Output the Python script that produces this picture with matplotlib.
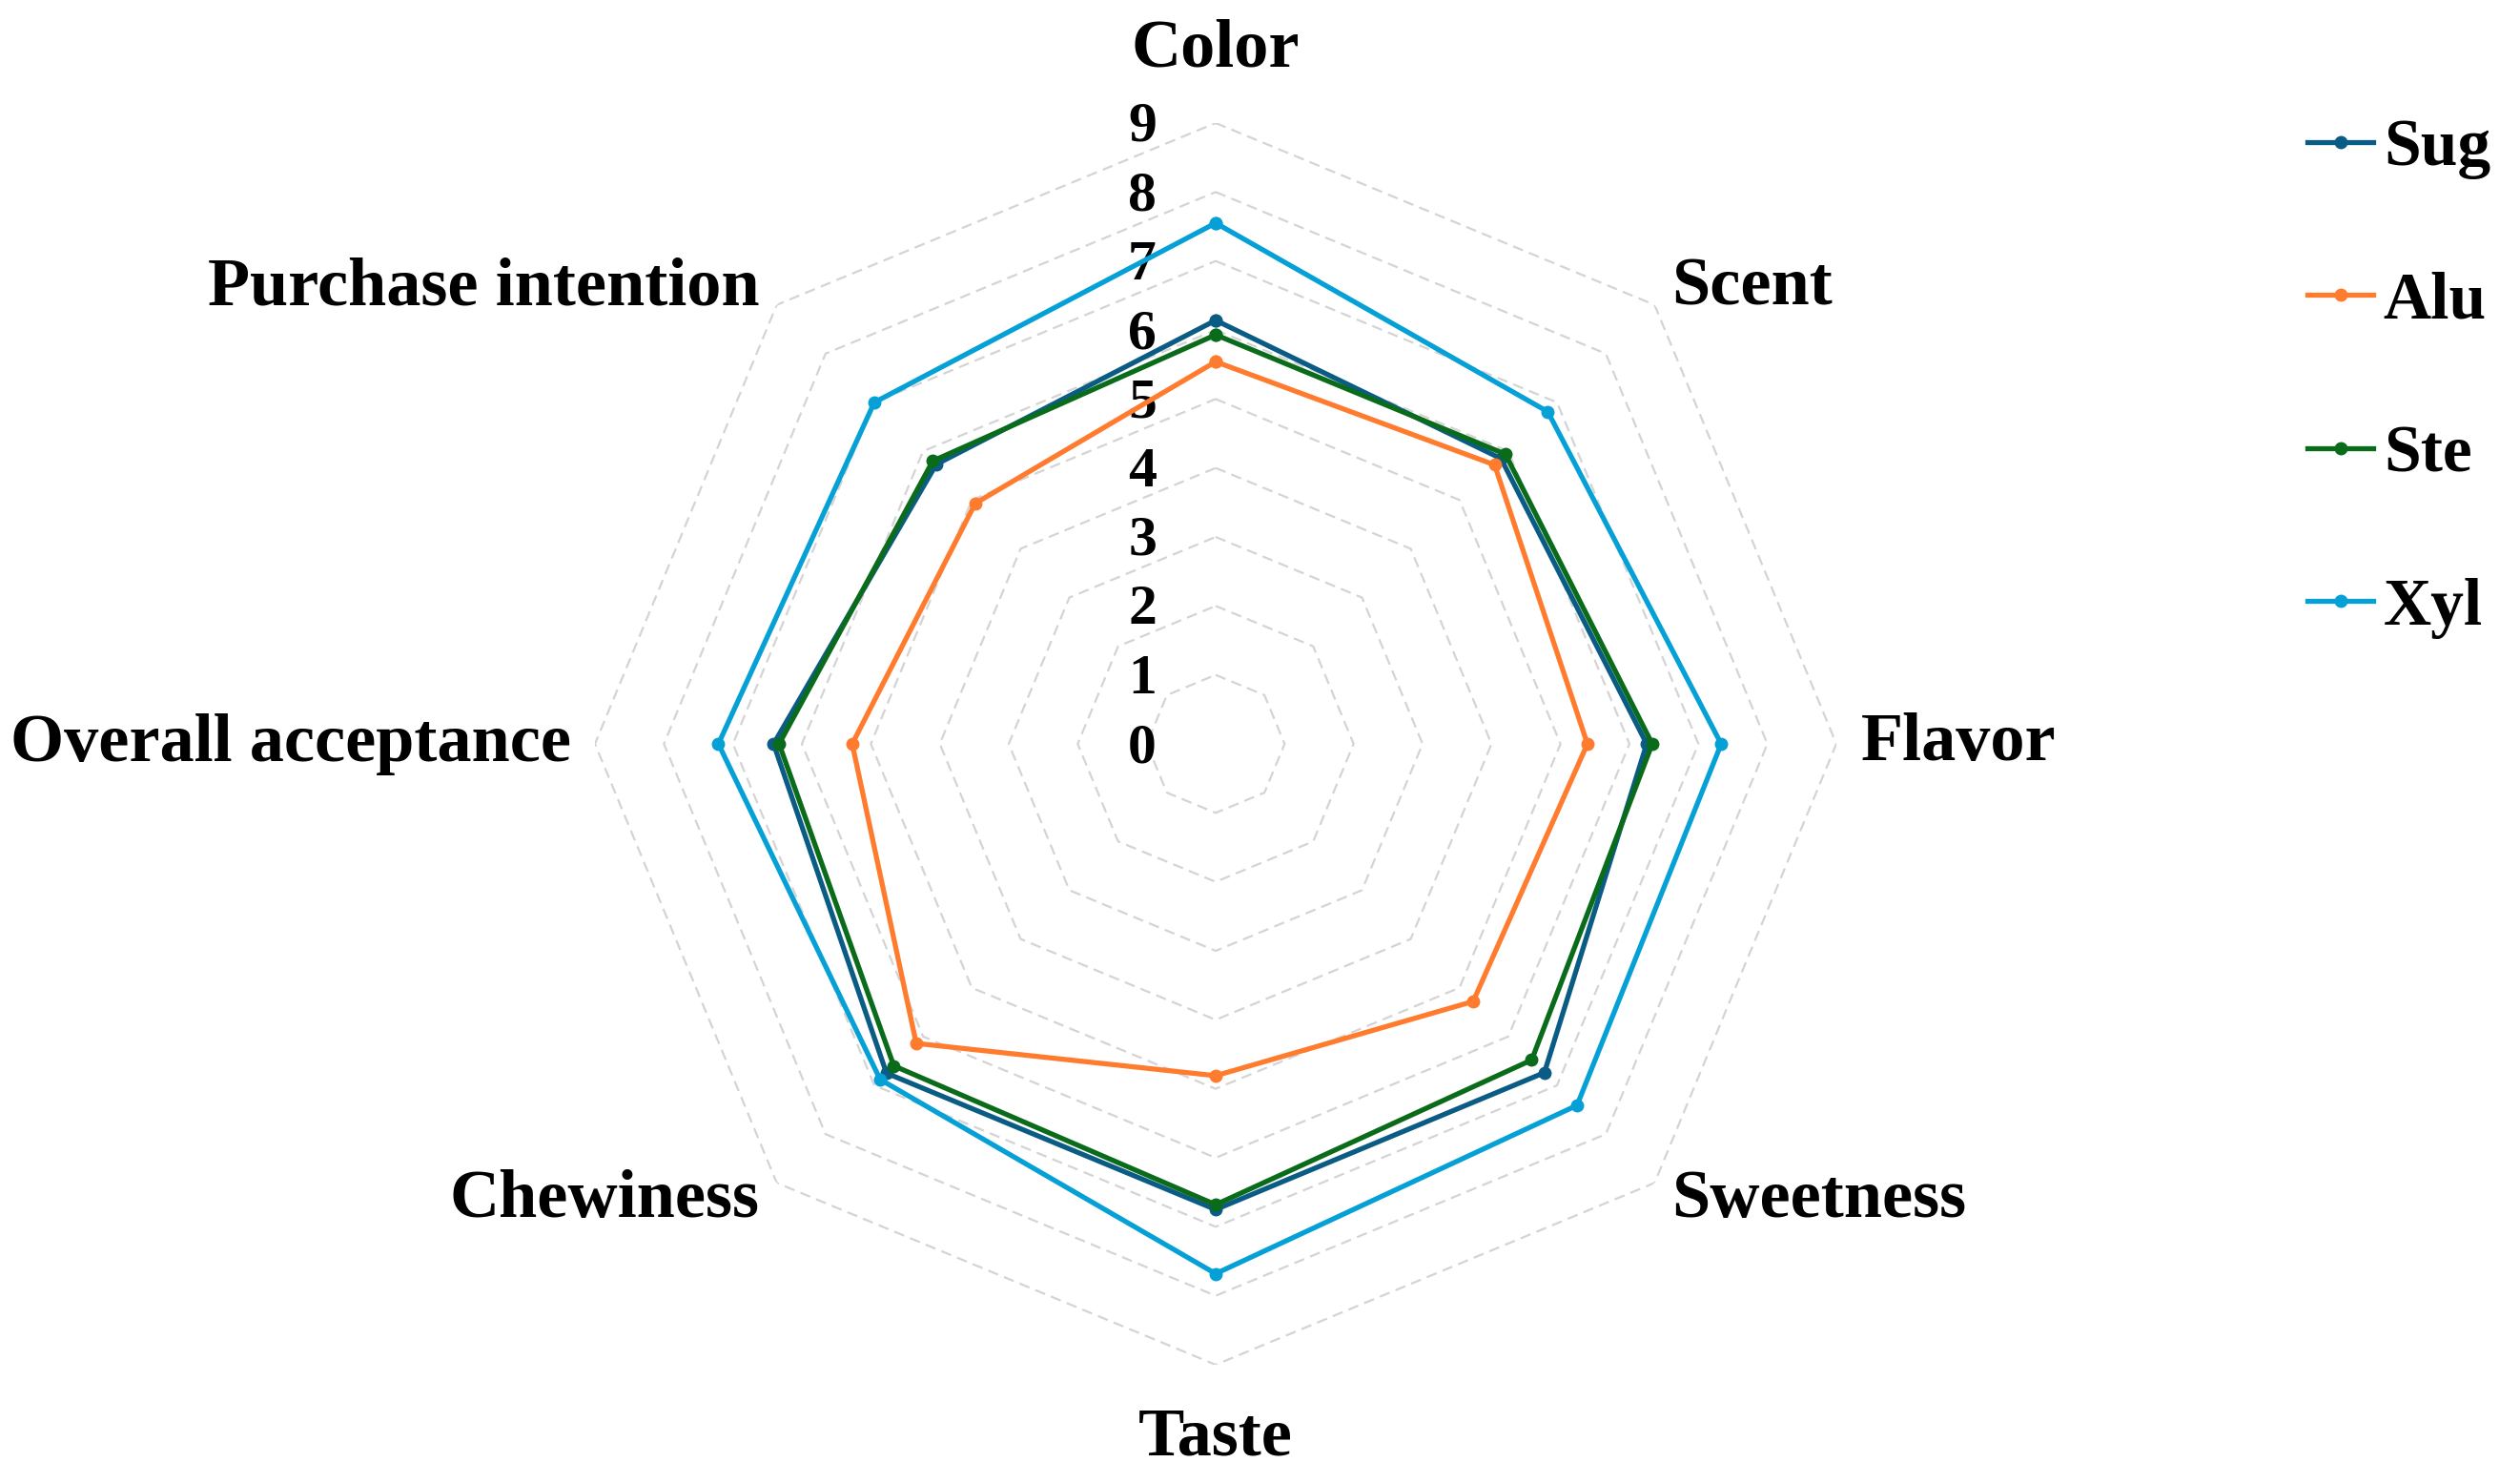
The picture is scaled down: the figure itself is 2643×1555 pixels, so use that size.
import numpy as np
import matplotlib
matplotlib.use("Agg")
import matplotlib.pyplot as plt
from matplotlib.transforms import offset_copy

plt.rcParams['font.family'] = ['Liberation Serif', 'DejaVu Serif']
plt.rcParams['font.weight'] = 'bold'

# categories, clockwise from the top
categories = ['Color', 'Scent', 'Flavor', 'Sweetness', 'Taste',
              'Chewiness', 'Overall acceptance', 'Purchase intention']

series_names = ['Sug', 'Alu', 'Ste', 'Xyl']
sug = [6.14, 5.85, 6.25, 6.74, 6.75, 6.75, 6.41, 5.73]
alu = [5.54, 5.72, 5.39, 5.28, 4.81, 6.14, 5.27, 4.93]
ste = [5.93, 5.94, 6.33, 6.48, 6.68, 6.60, 6.33, 5.80]
xyl = [7.55, 6.81, 7.33, 7.41, 7.68, 6.88, 7.21, 7.00]

r_ticks = [0, 1, 2, 3, 4, 5, 6, 7, 8, 9]

colors = ['#0B5C84', '#FF7B2E', '#0A6B1A', '#04A0D6']

W, H = 2643, 1555
fig = plt.figure(figsize=(W / 100, H / 100), dpi=100)

# polar axes centred at (1275, 780) px, radius 9 -> 651 px
cx, cy, rad = 1275, 780, 651
ax = fig.add_axes([(cx - rad) / W, 1 - (cy + rad) / H, 2 * rad / W, 2 * rad / H],
                  projection='polar')
ax.set_theta_offset(np.pi / 2)
ax.set_theta_direction(-1)
ax.set_ylim(0, 9)
ax.grid(False)
ax.spines['polar'].set_visible(False)
ax.set_xticks([])
ax.set_yticks([])

n = len(categories)
angles = np.linspace(0, 2 * np.pi, n, endpoint=False)
closed = np.append(angles, angles[0])

# octagonal dashed grid
for r in r_ticks[1:]:
    ax.plot(closed, [r] * (n + 1), color='#d4d4d4', lw=1.6,
            ls=(0, (5, 3)), zorder=1)

# radial tick labels left of the top spoke
tick_tr = offset_copy(ax.transData, fig=fig, x=-77, y=-5, units='dots')
for r in r_ticks:
    ax.text(0, r, str(r), transform=tick_tr, ha='center', va='center',
            fontsize=43, fontweight='bold', color='black')

# series
data = [sug, alu, ste, xyl]
for name, vals, c in zip(series_names, data, colors):
    ax.plot(closed, vals + vals[:1], color=c, lw=3.8, marker='o',
            markersize=9, label=name, zorder=3, clip_on=False)

# category labels
for ang, lab in zip(angles, categories):
    s, co = np.sin(ang), np.cos(ang)
    if abs(s) < 1e-6:
        ha = 'center'
        va = 'bottom' if co > 0 else 'top'
        r_lab = 9.62
    else:
        ha = 'left' if s > 0 else 'right'
        va = 'center'
        r_lab = 9.35
    ax.text(ang, r_lab, lab, ha=ha, va=va, fontsize=52, fontweight='bold',
            color='black', clip_on=False)

handles, labels = ax.get_legend_handles_labels()
fig.legend(handles, labels, loc='upper left',
           bbox_to_anchor=(2420 / W, 1 - 124 / H), frameon=False,
           fontsize=50, handlelength=1.0, handletextpad=0.15,
           labelspacing=1.39, borderpad=0, borderaxespad=0)

fig.savefig('out.png', dpi=100)
